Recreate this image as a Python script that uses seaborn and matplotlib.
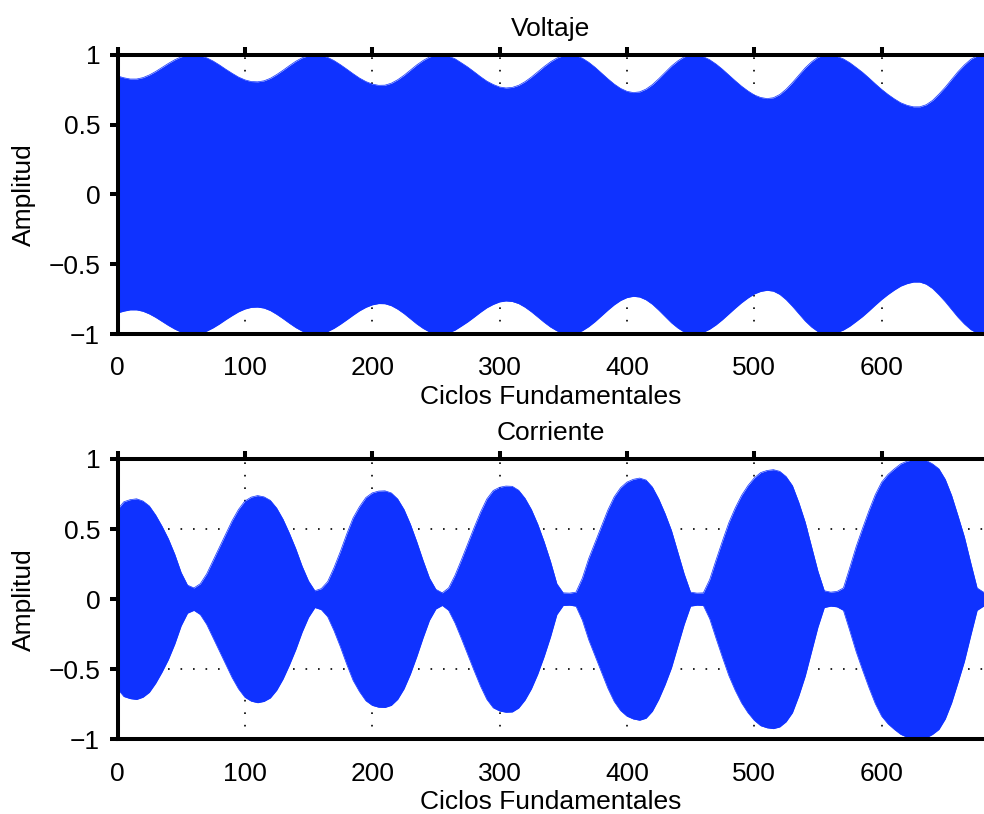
import numpy as np
import pandas as pd
import matplotlib
matplotlib.use("Agg")
import matplotlib.pyplot as plt
import seaborn as sns

# Fundamental cycles at which the amplitude envelope is sampled
cycles = np.arange(0, 690, 5)

# Peak amplitude (envelope) of the voltage waveform
voltage_env = [
    0.848, 0.835, 0.826, 0.826, 0.836, 0.855, 0.880, 0.909, 0.938, 0.964,
    0.985, 0.997, 1.000, 0.993, 0.978, 0.955, 0.927, 0.896, 0.867, 0.840,
    0.820, 0.808, 0.806, 0.813, 0.831, 0.858, 0.889, 0.922, 0.953, 0.978,
    0.994, 1.000, 0.995, 0.981, 0.958, 0.929, 0.897, 0.864, 0.833, 0.808,
    0.790, 0.781, 0.782, 0.796, 0.821, 0.853, 0.890, 0.927, 0.959, 0.984,
    0.998, 1.000, 0.990, 0.971, 0.942, 0.912, 0.878, 0.843, 0.811, 0.787,
    0.769, 0.762, 0.766, 0.781, 0.807, 0.840, 0.877, 0.915, 0.949, 0.976,
    0.994, 1.000, 0.994, 0.975, 0.946, 0.910, 0.869, 0.828, 0.790, 0.759,
    0.738, 0.729, 0.734, 0.754, 0.786, 0.828, 0.874, 0.919, 0.956, 0.985,
    0.999, 0.998, 0.986, 0.964, 0.933, 0.896, 0.855, 0.814, 0.775, 0.741,
    0.712, 0.694, 0.686, 0.692, 0.715, 0.753, 0.801, 0.854, 0.906, 0.949,
    0.982, 0.998, 0.998, 0.988, 0.970, 0.943, 0.909, 0.874, 0.834, 0.792,
    0.752, 0.716, 0.684, 0.656, 0.638, 0.627, 0.627, 0.642, 0.673, 0.718,
    0.768, 0.824, 0.879, 0.927, 0.967, 0.992, 1.000, 1.000,
]

# Peak amplitude (envelope) of the current waveform
current_env = [
    0.640, 0.695, 0.710, 0.716, 0.700, 0.665, 0.600, 0.520, 0.430, 0.320,
    0.190, 0.100, 0.080, 0.110, 0.180, 0.275, 0.370, 0.465, 0.560, 0.640,
    0.700, 0.728, 0.739, 0.730, 0.705, 0.650, 0.570, 0.470, 0.360, 0.235,
    0.130, 0.060, 0.075, 0.125, 0.225, 0.340, 0.465, 0.580, 0.660, 0.725,
    0.758, 0.771, 0.773, 0.758, 0.715, 0.640, 0.535, 0.410, 0.275, 0.150,
    0.070, 0.045, 0.080, 0.170, 0.280, 0.395, 0.510, 0.620, 0.715, 0.775,
    0.798, 0.807, 0.805, 0.777, 0.720, 0.640, 0.535, 0.410, 0.270, 0.110,
    0.045, 0.043, 0.050, 0.150, 0.290, 0.405, 0.520, 0.635, 0.730, 0.795,
    0.835, 0.855, 0.864, 0.850, 0.800, 0.715, 0.610, 0.490, 0.335, 0.180,
    0.050, 0.043, 0.045, 0.140, 0.280, 0.415, 0.545, 0.650, 0.740, 0.810,
    0.865, 0.903, 0.918, 0.924, 0.912, 0.875, 0.810, 0.690, 0.550, 0.375,
    0.200, 0.060, 0.050, 0.055, 0.080, 0.225, 0.375, 0.505, 0.630, 0.745,
    0.835, 0.890, 0.930, 0.965, 0.985, 0.996, 1.000, 0.990, 0.965, 0.930,
    0.855, 0.740, 0.595, 0.445, 0.260, 0.080, 0.050, 0.050,
]

panel_titles = ["Voltaje", "Corriente"]
x_label = "Ciclos Fundamentales"
y_label = "Amplitud"
x_ticks = [0, 100, 200, 300, 400, 500, 600]
y_ticks = [-1, -0.5, 0, 0.5, 1]
y_tick_labels = ["\u22121", "\u22120.5", "0", "0.5", "1"]

sns.set_theme(style="white")
plt.rcParams["font.family"] = ["Liberation Sans", "DejaVu Sans"]

BLUE = "#0F32FF"
FS = 19
W, H = 984, 814

fig = plt.figure(figsize=(W / 100, H / 100), dpi=100)


def make_axes(top_px, bottom_px, left_px=117.5):
    return fig.add_axes([left_px / W, 1 - bottom_px / H,
                         (W - left_px) / W, (bottom_px - top_px) / H])


axes = [make_axes(54.7, 334.2), make_axes(459.0, 739.3)]

for ax, env, title in zip(axes, [voltage_env, current_env], panel_titles):
    env = np.asarray(env)
    df = pd.DataFrame({"ciclo": cycles, "sup": env, "inf": -env})

    ax.fill_between(df["ciclo"], df["inf"], df["sup"], color=BLUE,
                    linewidth=0, zorder=2)
    sns.lineplot(data=df, x="ciclo", y="sup", color=BLUE, linewidth=0.5,
                 ax=ax, zorder=2)
    sns.lineplot(data=df, x="ciclo", y="inf", color=BLUE, linewidth=0.5,
                 ax=ax, zorder=2)

    ax.set_xlim(0, 680.4)
    ax.set_ylim(-1, 1)
    ax.set_xticks(x_ticks)
    ax.set_yticks(y_ticks)
    ax.set_yticklabels(y_tick_labels)

    ax.set_axisbelow(True)
    ax.grid(True, color="black", linestyle=(0, (1, 6.5)), linewidth=1.2)

    for side in ["top", "bottom", "left"]:
        ax.spines[side].set_visible(True)
        ax.spines[side].set_linewidth(2.9)
        ax.spines[side].set_color("black")
    ax.spines["right"].set_visible(False)

    ax.tick_params(axis="both", direction="out", length=5.5, width=2.9,
                   color="black", labelsize=FS, labelcolor="black")
    ax.tick_params(axis="x", top=True, labeltop=False, pad=10.5)
    ax.tick_params(axis="y", left=True, right=False, pad=7)

    ax.set_title(title, fontsize=FS, pad=13.5, color="black")
    ax.set_xlabel(x_label, fontsize=FS, labelpad=3.5, color="black")
    ax.set_ylabel(y_label, fontsize=FS, labelpad=9, color="black")

fig.savefig("out.png", dpi=100)
